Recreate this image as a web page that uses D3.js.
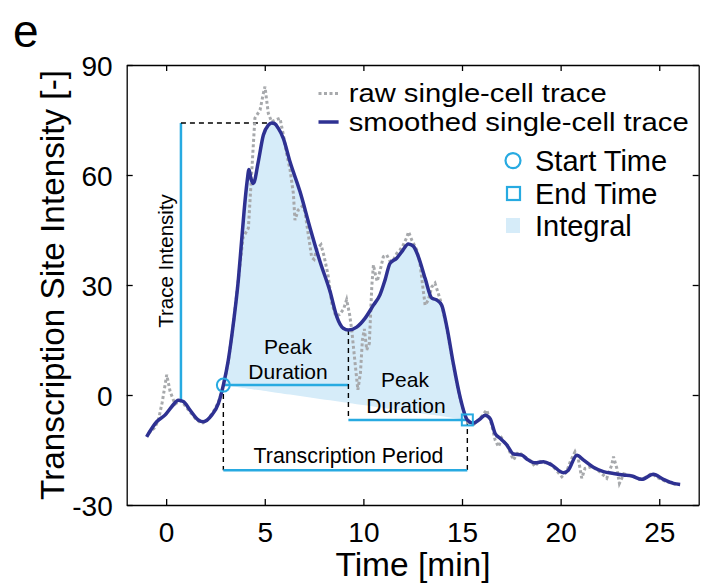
<!DOCTYPE html>
<html><head><meta charset="utf-8">
<script src="https://cdn.jsdelivr.net/npm/d3@7"></script>
<style>
body{margin:0;background:#fff;}
svg{display:block;font-family:"Liberation Sans",Arial,Helvetica,sans-serif;}
</style></head>
<body><svg id="c" width="706" height="585"></svg>
<script>
// ---- data ----
const xTicks = [0, 5, 10, 15, 20, 25];
const yTicks = [-30, 0, 30, 60, 90];
const rawTime = [-0.9,-0.6,-0.4,-0.2,0.03,0.2,0.45,0.7,0.9,1.2,1.5,1.8,2.1,2.4,2.65,2.9,3.15,3.4,3.65,3.9,4.17,4.34,4.5,4.76,4.93,5.01,5.18,5.35,5.55,5.77,5.94,6.1,6.28,6.45,6.53,6.7,6.9,7.04,7.2,7.38,7.5,7.65,7.85,8.0,8.2,8.4,8.6,8.8,9.0,9.15,9.3,9.41,9.58,9.72,9.85,9.95,10.05,10.17,10.3,10.43,10.51,10.6,10.7,10.85,11.01,11.18,11.35,11.52,11.69,11.85,12.03,12.2,12.29,12.45,12.71,12.87,13.0,13.13,13.29,13.47,13.63,13.78,13.95,14.2,14.5,14.8,15.05,15.3,15.6,15.9,16.25,16.5,16.68,16.85,17.02,17.3,17.61,17.86,18.2,18.5,18.7,18.9,19.2,19.46,19.7,20.06,20.3,20.5,20.73,20.9,21.07,21.24,21.6,22.0,22.34,22.59,22.68,22.85,22.98,23.2,23.6,24.0,24.3,24.62,24.9,25.3,25.6,25.89];
const rawValue = [-10.5,-9,-7,-2,5.5,1,-2.5,-1.5,-2.5,-4.5,-6.5,-7.8,-6.8,-4.5,-2,2.5,9,19,31,43,45.5,61,75.5,77.7,82.3,84.1,76.8,74.5,75,75.5,71,66,61.5,55,47.7,50.5,51.5,50,44,37.5,37,40,41,38,33,25,21.5,22,23.5,26,22,17.7,8.6,1.4,6,15,18,12.3,14,30,35.5,33,31,34,37.7,38.2,36.5,36.8,38.6,39.5,41,43,44.5,42.3,39.5,35.9,30,24.5,25.9,29.5,30.5,28,25,19,10,1.5,-4,-7.5,-8,-6.5,-4.1,-8,-12.3,-14.1,-11.8,-14,-17.7,-15.5,-17,-18,-19.5,-18,-18.5,-18.6,-20,-22.3,-21,-18,-15.5,-17.5,-22.7,-20,-19.5,-21,-22.7,-19.1,-16.8,-20,-24.1,-21.5,-22,-23,-22.5,-21.4,-22.5,-23.5,-24,-24.5];
const smoothTime = [-0.99,-0.48,-0.06,0.28,0.62,0.87,1.21,1.63,1.88,2.31,2.65,2.9,3.15,3.41,3.66,3.83,3.95,4.1,4.2,4.3,4.42,4.67,4.93,5.18,5.35,5.5,5.69,5.94,6.28,6.79,7.3,7.8,8.31,8.65,8.98,9.24,9.66,10.08,10.51,10.84,11.1,11.35,11.69,11.95,12.28,12.53,12.79,13.13,13.47,13.72,13.97,14.23,14.56,14.9,15.27,15.58,15.9,16.17,16.42,16.68,16.93,17.27,17.61,18.03,18.3,18.7,19.13,19.55,20.14,20.39,20.82,21.15,21.66,22.17,22.68,23.18,23.61,24.12,24.7,25.21,25.72,26.06];
const smoothValue = [-11.4,-7.3,-5.5,-3.2,-1.4,-1.8,-4.1,-6.8,-7.3,-5.5,-2.3,2.7,9.5,19.6,31.4,42.3,50,58,61.5,59,57.7,63.6,70.9,73.6,74.2,74,72.7,70,63.6,55.4,45.5,36.4,28.2,21.4,18.2,17.7,18.5,20.9,24.5,27.3,31.4,35.9,37.3,39.1,41.2,40.6,37.7,31.8,26.4,25.9,24.5,18.6,8.6,-0.5,-6.8,-7.7,-6.6,-5.5,-6.4,-10.5,-11.8,-13.6,-16.1,-16.4,-17.5,-18.5,-18.2,-19.1,-21.2,-20.5,-16.4,-17.7,-19.7,-20.9,-21.4,-21.8,-22.1,-23,-21.6,-23,-24.1,-24.4];
// annotation values
const startPt = [2.9, 2.7];
const endPt = [15.27, -6.8];
const troughPt = [9.24, 17.7];
const peakPt = [5.38, 74.2];
const traceBase = [0.75, -1.4];
const periodLevel = -20.5;
const legendLabels = ["raw single-cell trace", "smoothed single-cell trace", "Start Time", "End Time", "Integral"];

// ---- styles ----
const C = {navy:"#2e3192", gray:"#a7a9ac", cyan:"#27aae1", fill:"#d6ecf9"};

const svg = d3.select("#c");
const x = d3.scaleLinear().domain([-2, 27]).range([126.7, 698.7]);
const y = d3.scaleLinear().domain([-30, 90]).range([505, 65]);

const raw = rawTime.map((t,i)=>[t, rawValue[i]]);
const smooth = smoothTime.map((t,i)=>[t, smoothValue[i]]);

// integral fill
const baseAt = t => startPt[1] + (endPt[1]-startPt[1])*(t-startPt[0])/(endPt[0]-startPt[0]);
const integ = [startPt, ...smooth.filter(d=>d[0]>startPt[0] && d[0]<endPt[0]), endPt];
svg.append("path").datum(integ)
  .attr("d", d3.area().x(d=>x(d[0])).y1(d=>y(d[1])).y0(d=>y(baseAt(d[0]))).curve(d3.curveMonotoneX))
  .attr("fill", C.fill);

// axes
const tk = 6;
const fmt = d => String(d);
const gB = svg.append("g").attr("transform","translate(0,505)").call(d3.axisBottom(x).tickValues(xTicks).tickSize(-tk).tickSizeOuter(0).tickPadding(17).tickFormat(fmt));
const gT = svg.append("g").attr("transform","translate(0,65)").call(d3.axisTop(x).tickValues(xTicks).tickSize(-tk).tickSizeOuter(0).tickFormat(""));
const gL = svg.append("g").attr("transform","translate(126.7,0)").call(d3.axisLeft(y).tickValues(yTicks).tickSize(-tk).tickSizeOuter(0).tickPadding(14).tickFormat(fmt));
const gR = svg.append("g").attr("transform","translate(698.7,0)").call(d3.axisRight(y).tickValues(yTicks).tickSize(-tk).tickSizeOuter(0).tickFormat(""));
[gB,gT,gL,gR].forEach(g=>{
  g.selectAll("path,line").attr("stroke","#000").attr("stroke-width",1.3);
  g.selectAll("text").attr("font-size",28).attr("fill","#000").attr("font-family",null);
});
gB.selectAll("text").attr("dy","0.72em");
gL.selectAll("text").attr("dy","0.36em");

// annotation lines
const dash = {stroke:"#000","stroke-width":1.4,"stroke-dasharray":"5,4"};
function ln(x1,y1,x2,y2,st){const l=svg.append("line").attr("x1",x(x1)).attr("y1",y(y1)).attr("x2",x(x2)).attr("y2",y(y2));for(const k in st)l.attr(k,st[k]);return l;}
const cy = {stroke:C.cyan,"stroke-width":2.5};
ln(traceBase[0], traceBase[1], traceBase[0], peakPt[1], cy);
ln(traceBase[0], peakPt[1], peakPt[0], peakPt[1], dash);
ln(startPt[0], startPt[1], troughPt[0], startPt[1], cy);
ln(troughPt[0], troughPt[1], troughPt[0], endPt[1], dash);
ln(troughPt[0], endPt[1], endPt[0], endPt[1], cy);
ln(startPt[0], startPt[1], startPt[0], periodLevel, dash);
ln(endPt[0], endPt[1], endPt[0], periodLevel, dash);
ln(startPt[0], periodLevel, endPt[0], periodLevel, cy);

// traces
svg.append("path").datum(raw).attr("d", d3.line().x(d=>x(d[0])).y(d=>y(d[1])))
  .attr("fill","none").attr("stroke",C.gray).attr("stroke-width",3).attr("stroke-dasharray","3,2.5");
svg.append("path").datum(smooth).attr("d", d3.line().x(d=>x(d[0])).y(d=>y(d[1])).curve(d3.curveMonotoneX))
  .attr("fill","none").attr("stroke",C.navy).attr("stroke-width",3.5).attr("stroke-linejoin","round");

// markers
svg.append("circle").attr("cx",x(startPt[0])).attr("cy",y(startPt[1])).attr("r",6.5).attr("fill","none").attr("stroke",C.cyan).attr("stroke-width",2);
svg.append("rect").attr("x",x(endPt[0])-5.5).attr("y",y(endPt[1])-5.5).attr("width",11).attr("height",11).attr("fill","none").attr("stroke",C.cyan).attr("stroke-width",2);

// annotation text
function txt(px,py,s,fs,anchor,rot){const t=svg.append("text").attr("x",px).attr("y",py).attr("font-size",fs).attr("text-anchor",anchor||"middle").text(s);if(rot)t.attr("transform",`rotate(${rot},${px},${py})`);return t;}
txt(173, 261, "Trace Intensity", 20.5, "middle", -90);
txt(288, 354, "Peak", 21); txt(288, 379, "Duration", 21);
txt(405, 387, "Peak", 21); txt(406, 413, "Duration", 21);
txt(348.5, 463, "Transcription Period", 21.3);

// legend
svg.append("line").attr("x1",318.5).attr("x2",338.6).attr("y1",93.5).attr("y2",93.5).attr("stroke",C.gray).attr("stroke-width",3).attr("stroke-dasharray","3,2.5");
svg.append("line").attr("x1",318.5).attr("x2",338.6).attr("y1",122).attr("y2",122).attr("stroke",C.navy).attr("stroke-width",3.5);
txt(348.7, 101.5, legendLabels[0], 25.4, "start").attr("textLength",258).attr("lengthAdjust","spacingAndGlyphs");
txt(348.7, 130.5, legendLabels[1], 25.4, "start").attr("textLength",340).attr("lengthAdjust","spacingAndGlyphs");
svg.append("circle").attr("cx",513).attr("cy",160.6).attr("r",7.5).attr("fill","none").attr("stroke",C.cyan).attr("stroke-width",2.2);
svg.append("rect").attr("x",507).attr("y",187).attr("width",13).attr("height",13).attr("fill","none").attr("stroke",C.cyan).attr("stroke-width",2.2);
svg.append("rect").attr("x",506).attr("y",218).attr("width",14).attr("height",15).attr("fill",C.fill);
txt(535, 170.7, legendLabels[2], 29, "start");
txt(535, 204, legendLabels[3], 29, "start");
txt(535, 236, legendLabels[4], 29, "start");

// titles
txt(413, 576, "Time [min]", 33.5);
txt(64, 285, "Transcription Site Intensity [-]", 33.3, "middle", -90);
txt(13, 47, "e", 46, "start");
</script></body></html>
